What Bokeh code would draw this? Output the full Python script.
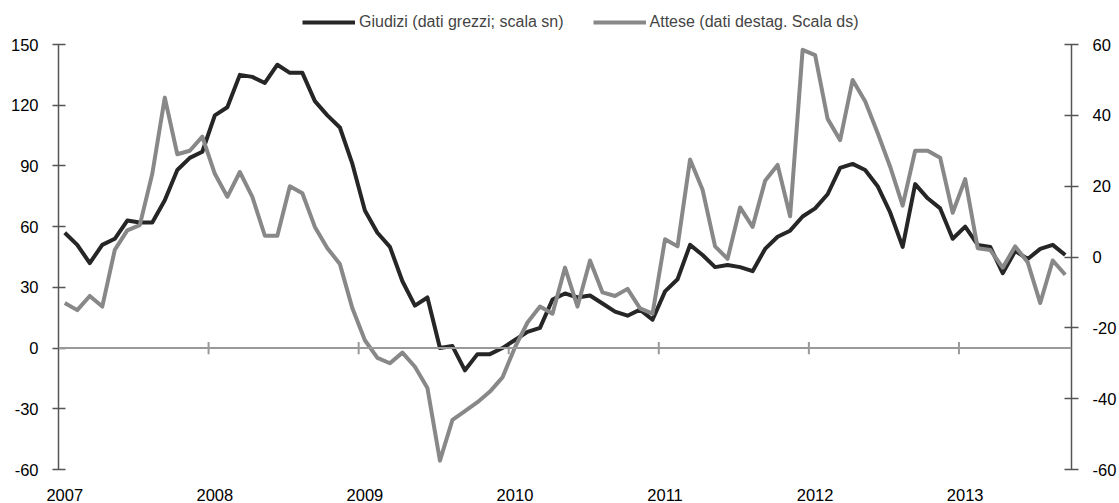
import numpy as np
from bokeh.plotting import figure
from bokeh.models import (Range1d, LinearAxis, FixedTicker, Span, Legend,
                          LegendItem, ColumnDataSource)
from bokeh.embed import file_html
from bokeh.resources import INLINE

# ---------------- data ----------------
years = [2007, 2008, 2009, 2010, 2011, 2012, 2013]

# Giudizi (dati grezzi; scala sn) - monthly, Jan 2007 .. Sep 2013 (left axis)
giudizi = [57, 51, 42, 51, 54, 63, 62, 62, 73, 88, 94, 97,
           115, 119, 135, 134, 131, 140, 136, 136, 122, 115, 109, 91,
           68, 57, 50, 33, 21, 25, 0, 1, -11, -3, -3, 0,
           4, 8, 10, 24, 27, 25, 26, 22, 18, 16, 19, 14,
           28, 34, 51, 46, 40, 41, 40, 38, 49, 55, 58, 65,
           69, 76, 89, 91, 88, 80, 67, 50, 81, 74, 69, 54,
           60, 51, 50, 37, 48, 44, 49, 51, 46]

# Attese (dati destag. Scala ds) - monthly, Jan 2007 .. Sep 2013 (right axis)
attese = [-13, -15, -11, -14, 2, 7.5, 9, 23.5, 45, 29, 30, 34,
          23.5, 17, 24, 17, 6, 6, 20, 18, 8.5, 2.5, -2, -14.5,
          -23.5, -28.5, -30, -27, -31, -37, -57.5, -46, -43.5, -41, -38, -34,
          -25.5, -18.5, -14, -16, -3, -14, -1, -10, -11, -9, -14.5, -16,
          5, 3, 27.5, 19, 3, -0.5, 14, 8.5, 21.5, 26, 11.5, 58.5,
          57, 39, 33, 50, 44, 35, 25.5, 14.5, 30, 30, 28, 12.5,
          22, 2.5, 2, -3, 3, -1.5, -13, -1, -5]

left_ticks = [-60, -30, 0, 30, 60, 90, 120, 150]
right_ticks = [-60, -40, -20, 0, 20, 40, 60]
labels = ["Giudizi (dati grezzi; scala sn)", "Attese (dati destag. Scala ds)"]

# ---------------- layout ----------------
FONT = "Liberation Sans"
FS = "16.5px"
LFS = "16px"
W, H = 1119, 503
XSTAND = 12
HF = H - XSTAND - 15        # expected frame height (figure px)
TOP_PX, BOT_PX = 44, 469    # where 150 / -60 sit (figure px)
LMIN, LMAX = left_ticks[0], left_ticks[-1]
RMIN, RMAX = right_ticks[0], right_ticks[-1]
s = (BOT_PX - TOP_PX) / (LMAX - LMIN)
L1 = LMAX + TOP_PX / s
L0 = LMIN - (HF - BOT_PX) / s
def to_right(v):
    return RMIN + (v - LMIN) * (RMAX - RMIN) / (LMAX - LMIN)

n = len(giudizi)
x = np.arange(n) + 0.5
src = ColumnDataSource(dict(x=x, g=giudizi, a=attese))

p = figure(width=W, height=H, output_backend="svg", toolbar_location=None,
           x_range=Range1d(0, n), y_range=Range1d(L0, L1),
           min_border_left=58, min_border_right=48,
           min_border_top=0, min_border_bottom=0)
p.extra_y_ranges = {"right": Range1d(to_right(L0), to_right(L1))}
p.outline_line_color = None
p.xgrid.visible = False
p.ygrid.visible = False
p.background_fill_color = "white"
p.border_fill_color = "white"

AX_COL = "#555555"

# left axis
ya = p.yaxis[0]
ya.bounds = (LMIN, LMAX)
ya.ticker = FixedTicker(ticks=left_ticks)
ya.major_label_overrides = {v: str(v) for v in left_ticks}
ya.minor_tick_line_color = None
ya.major_tick_in = 7
ya.major_tick_out = 6
ya.axis_line_color = AX_COL
ya.axis_line_width = 1.5
ya.major_tick_line_color = AX_COL
ya.major_tick_line_width = 1.5
ya.major_label_standoff = 14
ya.major_label_text_font = FONT
ya.major_label_text_font_size = FS
ya.major_label_text_color = "black"

# right axis
ra = LinearAxis(y_range_name="right", bounds=(RMIN, RMAX),
                ticker=FixedTicker(ticks=right_ticks))
ra.major_label_overrides = {v: str(v) for v in right_ticks}
ra.minor_tick_line_color = None
ra.major_tick_in = 7
ra.major_tick_out = 7
ra.axis_line_color = AX_COL
ra.axis_line_width = 1.5
ra.major_tick_line_color = AX_COL
ra.major_tick_line_width = 1.5
ra.major_label_standoff = 14
ra.major_label_text_font = FONT
ra.major_label_text_font_size = FS
ra.major_label_text_color = "black"
p.add_layout(ra, "right")

# bottom axis: year labels only
xa = p.xaxis[0]
xa.ticker = FixedTicker(ticks=[12 * k + 0.5 for k in range(len(years))])
xa.major_label_overrides = {12 * k + 0.5: str(y) for k, y in enumerate(years)}
xa.axis_line_color = None
xa.major_tick_line_color = None
xa.minor_tick_line_color = None
xa.major_tick_in = 0
xa.major_tick_out = 0
xa.major_label_standoff = XSTAND
xa.major_label_text_font = FONT
xa.major_label_text_font_size = FS
xa.major_label_text_color = "black"

# zero line with year ticks
p.add_layout(Span(location=0, dimension="width", line_color="#999999", line_width=2))
yr_x = [12 * k for k in range(1, len(years))]
p.segment(x0=yr_x, x1=yr_x, y0=[-3] * len(yr_x), y1=[3] * len(yr_x),
          line_color="#999999", line_width=2)

r1 = p.line("x", "g", source=src, line_color="#262626", line_width=4, line_join="round")
r2 = p.line("x", "a", source=src, y_range_name="right", line_color="#888888",
            line_width=4, line_join="round")

leg = Legend(items=[LegendItem(label=labels[0], renderers=[r1]),
                    LegendItem(label=labels[1], renderers=[r2])],
             orientation="horizontal", location=(244, HF - 31),
             glyph_width=53, glyph_height=18, label_standoff=4, spacing=29,
             padding=0, margin=0, border_line_color=None, background_fill_alpha=0,
             label_text_font=FONT, label_text_font_size=LFS, label_height=18)
p.add_layout(leg, "center")

open("out.html", "w").write(file_html(p, INLINE))
